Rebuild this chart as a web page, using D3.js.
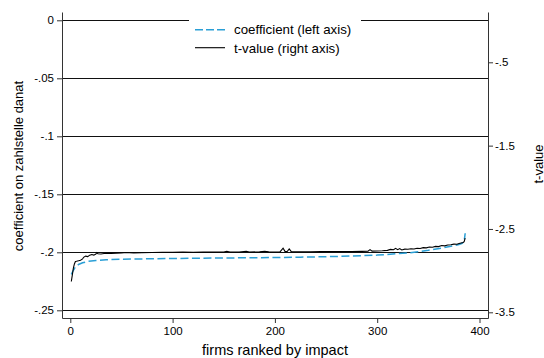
<!DOCTYPE html>
<html>
<head>
<meta charset="utf-8">
<script src="https://cdn.jsdelivr.net/npm/d3@7"></script>
<style>
  body { margin: 0; background: #fff; }
  svg text { font-family: "Liberation Sans", Arial, Helvetica, sans-serif; fill: #000; }
</style>
</head>
<body>
<svg id="chart" width="544" height="358"></svg>
<script>
// coefficient (left axis)
var coefRank = [1, 3, 5, 8, 12, 18, 25, 35, 50, 75, 100, 150, 200, 225, 250, 275, 300, 320, 330, 340, 350, 363, 372, 380, 383, 385, 386];
var coefVal = [-0.219, -0.2155, -0.2125, -0.2105, -0.209, -0.2078, -0.207, -0.2064, -0.206, -0.2056, -0.2053, -0.2049, -0.2045, -0.2042, -0.2038, -0.2032, -0.2024, -0.2012, -0.2006, -0.1995, -0.1983, -0.1964, -0.1948, -0.1932, -0.1922, -0.1905, -0.1836];

// t-value (right axis)
var tRank = [1, 2, 3, 4, 5, 6, 8, 10, 12, 13, 15, 17, 19, 21, 23, 25, 26, 27, 30, 33, 36, 40, 45, 50, 55, 58, 62, 70, 80, 90,
  100, 110, 120, 130, 140, 150, 153, 156, 165, 172, 175, 185, 190, 194, 200, 205, 208, 210, 212, 214, 216, 225, 235, 245, 255, 265, 275, 285, 291, 293,
  295, 300, 305, 310, 313, 316, 318, 320, 322, 324, 327, 330, 333, 336, 339, 342, 345, 348, 351, 354, 357, 360, 363, 366, 369, 372, 375, 378, 380, 382,
  384, 385, 386];
var tVal = [-3.13, -3.05, -2.97, -2.92, -2.89, -2.888, -2.882, -2.875, -2.86, -2.84, -2.826, -2.832, -2.814, -2.806, -2.814, -2.80, -2.783, -2.797, -2.80, -2.795, -2.792, -2.793, -2.79, -2.788, -2.782, -2.786, -2.787, -2.785, -2.783, -2.78,
  -2.779, -2.778, -2.779, -2.777, -2.778, -2.776, -2.768, -2.777, -2.776, -2.768, -2.776, -2.775, -2.768, -2.775, -2.776, -2.775, -2.73, -2.772, -2.771, -2.74, -2.772, -2.773, -2.773, -2.772, -2.771, -2.771, -2.77, -2.769, -2.768, -2.748,
  -2.766, -2.765, -2.762, -2.757, -2.745, -2.75, -2.733, -2.748, -2.735, -2.752, -2.742, -2.744, -2.738, -2.74, -2.731, -2.734, -2.724, -2.727, -2.717, -2.72, -2.709, -2.712, -2.699, -2.703, -2.693, -2.69, -2.682, -2.684, -2.675, -2.668,
  -2.662, -2.652, -2.61];

var xTicks = [0, 100, 200, 300, 400];
var leftTicks = [0, -0.05, -0.1, -0.15, -0.2, -0.25];
var leftLabels = ["0", "-.05", "-.1", "-.15", "-.2", "-.25"];
var rightTicks = [-0.5, -1.5, -2.5, -3.5];
var rightLabels = ["-.5", "-1.5", "-2.5", "-3.5"];
var legendLabels = ["coefficient (left axis)", "t-value (right axis)"];

var svg = d3.select("#chart");
var plotLeft = 62, plotRight = 488, plotTop = 12, plotBottom = 318;

var x = d3.scaleLinear().domain([0, 400]).range([70.3, 479.5]);
x.domain([x.invert(plotLeft), x.invert(plotRight)]).range([plotLeft, plotRight]);

var yL = d3.scaleLinear().domain([-0.25, 0]).range([310.3, 20.3]);
yL.domain([yL.invert(plotBottom), yL.invert(plotTop)]).range([plotBottom, plotTop]);

var yR = d3.scaleLinear().domain([-3.5, -0.5]).range([312.3, 62.3]);
yR.domain([yR.invert(plotBottom), yR.invert(plotTop)]).range([plotBottom, plotTop]);

// gridlines at the left ticks
svg.append("g").selectAll("line").data(leftTicks).enter().append("line")
  .attr("x1", plotLeft).attr("x2", plotRight)
  .attr("y1", function(d){ return Math.round(yL(d)) + 0.5; })
  .attr("y2", function(d){ return Math.round(yL(d)) + 0.5; })
  .attr("stroke", "#111").attr("stroke-width", 1.1);

// the two series
var coefData = coefRank.map(function(r, i){ return [r, coefVal[i]]; });
var tData = tRank.map(function(r, i){ return [r, tVal[i]]; });

svg.append("path").datum(coefData)
  .attr("fill", "none").attr("stroke", "#2a9fd6").attr("stroke-width", 1.5)
  .attr("stroke-dasharray", "8,3.5")
  .attr("d", d3.line().x(function(d){ return x(d[0]); }).y(function(d){ return yL(d[1]); }));

svg.append("path").datum(tData)
  .attr("fill", "none").attr("stroke", "#000").attr("stroke-width", 1.1)
  .attr("d", d3.line().x(function(d){ return x(d[0]); }).y(function(d){ return yR(d[1]); }));

// axes
var axL = svg.append("g").attr("transform", "translate(" + plotLeft + ",0)")
  .call(d3.axisLeft(yL).tickValues(leftTicks).tickSize(5).tickSizeOuter(0).tickPadding(3)
    .tickFormat(function(d, i){ return leftLabels[i]; }));
var axR = svg.append("g").attr("transform", "translate(" + plotRight + ",0)")
  .call(d3.axisRight(yR).tickValues(rightTicks).tickSize(5).tickSizeOuter(0).tickPadding(2)
    .tickFormat(function(d, i){ return rightLabels[i]; }));
var axB = svg.append("g").attr("transform", "translate(0," + plotBottom + ")")
  .call(d3.axisBottom(x).tickValues(xTicks).tickSize(5).tickSizeOuter(0).tickPadding(4));

[axL, axR, axB].forEach(function(a){
  a.selectAll(".domain").attr("stroke", "#333");
  a.selectAll(".tick line").attr("stroke", "#333");
  a.selectAll("text").style("font-size", "11.5px").attr("font-family", null);
});

// legend
var lg = svg.append("g");
lg.append("rect").attr("x", 189).attr("y", 14).attr("width", 172).attr("height", 54).attr("fill", "#fff");
lg.append("line").attr("x1", 195).attr("x2", 225).attr("y1", 29.7).attr("y2", 29.7)
  .attr("stroke", "#2a9fd6").attr("stroke-width", 1.5).attr("stroke-dasharray", "8,3");
lg.append("line").attr("x1", 195).attr("x2", 225).attr("y1", 47.7).attr("y2", 47.7)
  .attr("stroke", "#000").attr("stroke-width", 1.1);
lg.selectAll("text").data(legendLabels).enter().append("text")
  .attr("x", 234).attr("y", function(d, i){ return 34.3 + i * 18.5; })
  .style("font-size", "13.3px").text(function(d){ return d; });

// axis titles
svg.append("text").attr("x", 275).attr("y", 355).attr("text-anchor", "middle")
  .style("font-size", "14.5px").text("firms ranked by impact");
svg.append("text").attr("transform", "translate(22.5,166) rotate(-90)").attr("text-anchor", "middle")
  .style("font-size", "13px").text("coefficient on zahlstelle danat");
svg.append("text").attr("transform", "translate(542.5,164) rotate(-90)").attr("text-anchor", "middle")
  .style("font-size", "13px").text("t-value");
</script>
</body>
</html>
